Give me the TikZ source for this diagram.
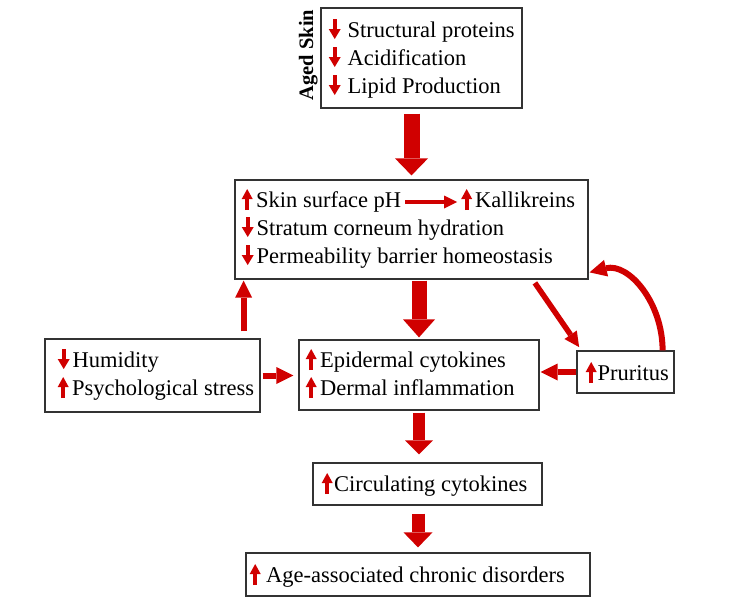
\documentclass[tikz,border=0pt]{standalone}
\usepackage{fontspec}
\setmainfont{Liberation Serif}
\usetikzlibrary{arrows.meta,calc}
\definecolor{myred}{RGB}{208,0,0}
\newcommand{\uparr}{\tikz[baseline=0pt]\draw[myred,line width=4pt,-{Triangle[width=11pt,length=10pt,line width=0pt]}] (0pt,-3pt) -- (0pt,18pt);}
\newcommand{\dnarr}{\tikz[baseline=0pt]\draw[myred,line width=4pt,-{Triangle[width=12pt,length=10pt,line width=0pt]}] (0pt,18pt) -- (0pt,-2pt);}
\newcommand{\harr}{\tikz[baseline=0pt]\draw[myred,line width=4pt,-{Triangle[width=13pt,length=13pt,line width=0pt]}] (0pt,5pt) -- (52pt,5pt);}
\begin{document}
\begin{tikzpicture}[x=1pt,y=-1pt,
  box/.style={draw=black!80,line width=1.2pt,rectangle,inner sep=0pt,fill=white},
  txt/.style={anchor=base west,inner sep=0pt,font=\fontsize{22.5}{28}\selectfont},
  bigarr/.style n args={3}{draw=myred,line width=#1,-{Triangle[width=#2,length=#3,line width=0pt]}},
  medarr/.style={draw=myred,line width=6pt,-{Triangle[width=17pt,length=17pt,line width=0pt]}},
  thinarr/.style={draw=myred,line width=5.5pt,-{Triangle[width=15pt,length=15pt,line width=0pt]}}
]
\useasboundingbox (0,0) rectangle (734,600);

% boxes
\node[box,minimum width=201pt,minimum height=100pt] (top) at (421.5,58) {};
\node[box,minimum width=353pt,minimum height=99pt] (box2) at (411.5,229.5) {};
\node[box,minimum width=215pt,minimum height=73pt] (left) at (152.5,375.5) {};
\node[box,minimum width=240pt,minimum height=70pt] (box3) at (419,375) {};
\node[box,minimum width=97pt,minimum height=42pt] (prur) at (625.5,372) {};
\node[box,minimum width=229pt,minimum height=42pt] (circ) at (427.5,484) {};
\node[box,minimum width=344pt,minimum height=43pt] (last) at (418,574.5) {};

% texts
\node[rotate=90,anchor=base,inner sep=0pt,font=\bfseries\fontsize{20.5}{24}\selectfont] (aged) at (313,55) {Aged Skin};
\node[txt] (t1) at (328.5,37) {\dnarr\hspace{7pt}Structural proteins};
\node[txt] (t2) at (328.5,65) {\dnarr\hspace{7pt}Acidification};
\node[txt] (t3) at (328.5,93) {\dnarr\hspace{7pt}Lipid Production};

\node[txt] (b1) at (241.5,207) {\uparr\hspace{3.5pt}Skin surface pH\hspace{2pt}\harr\hspace{2pt}\uparr\hspace{3pt}Kallikreins};
\node[txt] (b2) at (241.5,235) {\dnarr\hspace{3pt}Stratum corneum hydration};
\node[txt] (b3) at (241.5,263) {\dnarr\hspace{3pt}Permeability barrier homeostasis};

\node[txt] (l1) at (57.5,367) {\dnarr\hspace{3pt}Humidity};
\node[txt] (l2) at (57.5,395) {\uparr\hspace{3.5pt}Psychological stress};

\node[txt] (e1) at (305.5,367) {\uparr\hspace{3.5pt}Epidermal cytokines};
\node[txt] (e2) at (305.5,395) {\uparr\hspace{3.5pt}Dermal inflammation};

\node[txt] (p1) at (585.5,380) {\uparr\hspace{1pt}Pruritus};
\node[txt] (c1) at (321.5,491) {\uparr\hspace{1.5pt}Circulating cytokines};
\node[txt] (a1) at (249.5,582) {\uparr\hspace{5.5pt}Age-associated chronic disorders};

% big arrows
\draw[bigarr={16pt}{33pt}{17pt},shorten <=5pt,shorten >=4pt] (top.south -| box2.north) -- (box2.north);
\draw[bigarr={15pt}{32pt}{18pt},shorten <=1pt,shorten >=2pt] (box2.south -| box3.north) -- (box3.north);
\draw[bigarr={12pt}{28pt}{14pt},shorten <=2pt,shorten >=8pt] (box3.south) -- (box3.south |- circ.north);
\draw[bigarr={13pt}{29pt}{15pt},shorten <=8pt,shorten >=5pt] (circ.south -| last.north) -- (last.north);

% medium arrows
\coordinate (lu) at ([xshift=-17pt]left.north east);
\draw[medarr,shorten <=7pt,shorten >=1pt] (lu) -- (lu |- box2.south);
\draw[medarr,shorten <=2pt,shorten >=5pt] (left.east) -- (left.east -| box3.west);
\draw[medarr,shorten >=1pt] (prur.west) -- (prur.west -| box3.east);

\coordinate (ds) at ([xshift=-56pt]box2.south east);
\coordinate (de) at ([xshift=5pt]prur.north west);
\draw[thinarr,shorten <=4pt,shorten >=4pt] (ds) -- (de);

\coordinate (cs) at ([xshift=-12pt]prur.north east);
\coordinate (ce) at ([yshift=7pt]box2.south east);
\draw[medarr,shorten >=1pt] (cs) .. controls +(0,-48) and +(40,-10) .. (ce);
\end{tikzpicture}
\end{document}
